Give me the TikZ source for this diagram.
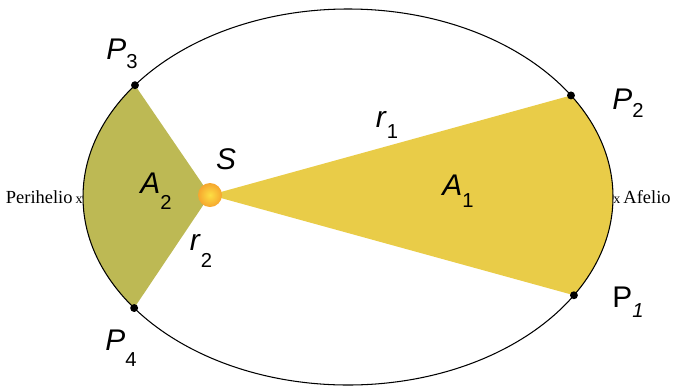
\documentclass[tikz,border=0pt]{standalone}
\usepackage{fontspec}
\setmainfont{Liberation Sans}
\newfontfamily\serifa{Liberation Serif}
\usetikzlibrary{calc}
\definecolor{areaone}{RGB}{233,204,72}
\definecolor{areatwo}{RGB}{189,185,84}
\definecolor{sunorange}{RGB}{246,166,46}
\newcommand{\lab}[3][.45em]{#2\raisebox{-#1}{\fontsize{11.5}{11.5}\selectfont #3}}
\tikzset{
  lbl/.style={font=\fontsize{17}{17}\selectfont,inner sep=0pt},
  dot/.style={circle,fill=black,inner sep=0pt,minimum size=4.5pt},
  sun/.style={circle,inner sep=0pt,minimum size=.48cm,inner color=sunorange!45!yellow!80!white,outer color=sunorange},
  side/.style={font=\serifa\fontsize{10.5}{10.5}\selectfont,inner sep=0pt}
}
\begin{document}
\begin{tikzpicture}
\useasboundingbox (0,0) rectangle (13.46,7.78);
\coordinate (O) at (6.96,3.84);
\coordinate (s) at (4.20,3.88);
\coordinate (p1) at ($(O)+(-31.5:5.3cm and 3.76cm)$);
\coordinate (p2) at ($(O)+(32.7:5.3cm and 3.76cm)$);
\coordinate (p3) at ($(O)+(143.5:5.3cm and 3.76cm)$);
\coordinate (p4) at ($(O)+(216.2:5.3cm and 3.76cm)$);
\coordinate (peri) at ($(O)+(180:5.3cm and 3.76cm)$);
\coordinate (afe) at ($(O)+(0:5.3cm and 3.76cm)$);
% swept areas
\fill[areaone] (s) -- (p2) arc[start angle=32.7,end angle=-31.5,x radius=5.3cm,y radius=3.76cm] -- cycle;
\fill[areatwo] (s) -- (p3) arc[start angle=143.5,end angle=216.2,x radius=5.3cm,y radius=3.76cm] -- cycle;
% orbit
\draw[line width=.6pt] (O) ellipse[x radius=5.3cm,y radius=3.76cm];
\foreach \p in {p1,p2,p3,p4} \node[dot] at (\p) {};
\node[sun] (S) at (s) {};
% labels
\node[lbl] (lS) at (4.52,4.60) {\textit{S}};
\node[lbl] (lA1) at (9.16,3.96) {\lab[.4em]{\textit{A}}{1}};
\node[lbl] (lA2) at (3.12,3.96) {\lab[.55em]{\textit{A}}{2}};
\node[lbl] (lr1) at (7.74,5.28) {\lab[.35em]{\textit{r}}{1}};
\node[lbl] (lr2) at (4.02,2.76) {\lab[.55em]{\textit{r}}{2}};
\node[lbl] (lP1) at (12.56,1.74) {\lab[.35em]{P}{\itshape 1}};
\node[lbl] (lP2) at (12.56,5.72) {\lab[.25em]{\textit{P}}{2}};
\node[lbl] (lP3) at (2.44,6.70) {\lab[.3em]{\textit{P}}{3}};
\node[lbl] (lP4) at (2.42,0.82) {\lab[.55em]{\textit{P}}{4}};
\node[side,anchor=east] (lperi) at (peri) {Perihelio\,{\footnotesize x}};
\node[side,anchor=west] (lafe) at (afe) {{\footnotesize x}\,Afelio};
\end{tikzpicture}
\end{document}
